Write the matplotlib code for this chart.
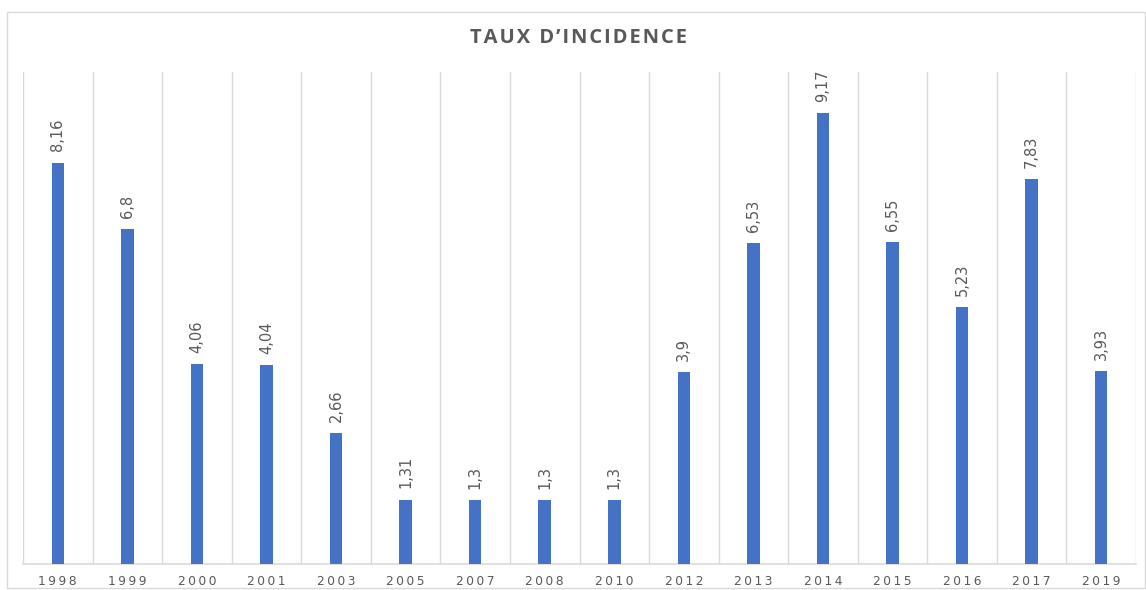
import matplotlib.pyplot as plt
from matplotlib.patches import Rectangle

# Données
annees = ['1998', '1999', '2000', '2001', '2003', '2005', '2007', '2008',
          '2010', '2012', '2013', '2014', '2015', '2016', '2017', '2019']
taux = [8.16, 6.8, 4.06, 4.04, 2.66, 1.31, 1.3, 1.3,
        1.3, 3.9, 6.53, 9.17, 6.55, 5.23, 7.83, 3.93]
etiquettes = ['8,16', '6,8', '4,06', '4,04', '2,66', '1,31', '1,3', '1,3',
              '1,3', '3,9', '6,53', '9,17', '6,55', '5,23', '7,83', '3,93']

bleu = '#4472C4'
gris_texte = '#595959'
gris_ligne = '#D9D9D9'

fig = plt.figure(figsize=(11.46, 5.9), dpi=100)
ax = fig.add_axes([23 / 1146, 1 - 564 / 590, (1136 - 23) / 1146, (564 - 72) / 590])

x = list(range(len(annees)))
ax.bar(x, taux, width=0.18, color=bleu, zorder=3)

# Étiquettes des valeurs
for xi, v, lab in zip(x, taux, etiquettes):
    ax.annotate(lab, (xi, v), xytext=(0, 8), textcoords='offset points',
                rotation=90, ha='center', va='bottom', fontsize=10.5,
                color=gris_texte, family='DejaVu Sans')

# Lignes verticales entre les catégories
for b in range(len(annees) + 1):
    ax.axvline(b - 0.5, color=gris_ligne, linewidth=1, zorder=1)

ax.set_xlim(-0.5, len(annees) - 0.5)
ax.set_ylim(0, 10)
ax.set_yticks([])
ax.set_xticks(x)
ax.set_xticklabels(['\u2009'.join(a) for a in annees], fontsize=8.8, color=gris_texte)
ax.tick_params(axis='x', length=0, pad=8)
for s in ['top', 'left', 'right']:
    ax.spines[s].set_visible(False)
ax.spines['bottom'].set_color(gris_ligne)
ax.spines['bottom'].set_linewidth(1.2)

titre = 'TAUX D\u2019INCIDENCE'
fig.text(578 / 1146, 1 - 38 / 590, '\u200a'.join(titre), ha='center', va='center',
         fontsize=14.5, fontweight='bold', color=gris_texte,
         family=['Open Sans', 'DejaVu Sans'])

# Cadre du graphique
fig.patches.append(Rectangle((7 / 1146, 2 / 590), 1 - 8 / 1146, 1 - 14 / 590,
                             transform=fig.transFigure, fill=False,
                             edgecolor=gris_ligne, linewidth=1))

plt.savefig('out.png', dpi=100)
